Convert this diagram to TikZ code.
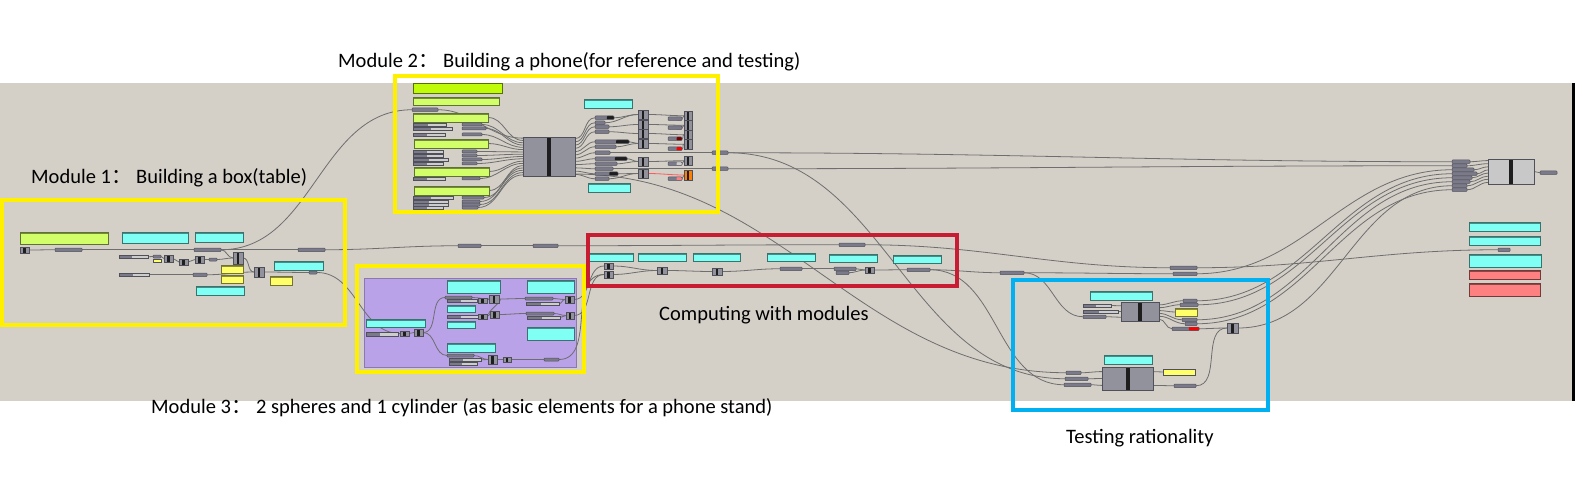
\documentclass[tikz,border=0pt]{standalone}
\usepackage{fontspec}
\setmainfont{Carlito}
\newfontfamily\cjk{Noto Sans CJK SC}
\usetikzlibrary{calc}

\definecolor{ghBg}{RGB}{212,208,200}
\definecolor{ghCyan}{RGB}{128,255,245}
\definecolor{ghLime}{RGB}{210,255,105}
\definecolor{ghLimeHi}{RGB}{192,252,10}
\definecolor{ghYel}{RGB}{255,255,105}
\definecolor{ghRose}{RGB}{255,128,128}
\definecolor{ghComp}{RGB}{146,146,156}
\definecolor{ghFin}{RGB}{200,200,200}
\definecolor{ghPrm}{RGB}{122,122,138}
\definecolor{ghLight}{RGB}{205,205,205}
\definecolor{ghEdge}{RGB}{80,80,90}
\definecolor{ghBar}{RGB}{30,30,30}
\definecolor{ghWire}{RGB}{110,110,110}
\definecolor{ghPurple}{RGB}{185,162,232}
\definecolor{frYel}{RGB}{255,240,0}
\definecolor{frRed}{RGB}{200,28,50}
\definecolor{frBlue}{RGB}{0,176,240}

\pgfdeclarelayer{canvas}
\pgfdeclarelayer{wires}
\pgfsetlayers{canvas,wires,main}

\tikzset{
  gh/.style={inner sep=0pt, outer sep=0pt, anchor=north west, line width=.5pt, draw=ghEdge},
  panel/.style={gh, fill=#1, draw=#1!45!black, path picture={\fill[#1!55!black] (path picture bounding box.north west) rectangle ([yshift=-2pt]path picture bounding box.north east);}},
  cyanp/.style={panel=ghCyan},
  limep/.style={panel=ghLime},
  yelp/.style={panel=ghYel},
  rosep/.style={panel=ghRose},
  blk/.style={gh, fill=ghComp, path picture={\fill[ghBar] ([xshift=-2pt]path picture bounding box.north) rectangle ([xshift=2pt]path picture bounding box.south);}},
  tiny/.style={gh, fill=ghComp, path picture={\fill[ghBar] ([xshift=-1.3pt]path picture bounding box.north) rectangle ([xshift=1.3pt]path picture bounding box.south);}},
  prm/.style={gh, fill=ghPrm, rounded corners=.8pt},
  prmend/.style={prm, path picture={\fill[#1] ($(path picture bounding box.north west)!.62!(path picture bounding box.north east)$) rectangle (path picture bounding box.south east);}},
  prmk/.style={prmend=ghBar},
  sld/.style={gh, fill=ghLight, path picture={\fill[ghPrm] (path picture bounding box.north west) rectangle ($(path picture bounding box.south west)!.45!(path picture bounding box.south east)$);}},
  wire/.style={draw=ghWire, line width=.8pt},
  modframe/.style={draw=#1, line width=4pt},
  lbl/.style={anchor=base west, inner sep=0pt, font=\fontsize{20.5}{24}\selectfont}
}

\begin{document}
\begin{tikzpicture}[x=1pt, y=-1pt]
\useasboundingbox (0,0) rectangle (1583,484);

% canvas
\begin{pgfonlayer}{canvas}
\fill[ghBg] (0,83) rectangle (1572,401);
\fill[black] (1572,83) rectangle (1575,401);
\fill[ghPurple, draw=ghPurple!75!black] (364,278) rectangle (576,367);
\end{pgfonlayer}

% module 1: box
\node[limep, minimum width=88, minimum height=12] (m1g) at (20,232) {};
\node[cyanp, minimum width=66, minimum height=11] (m1c1) at (122,232) {};
\node[cyanp, minimum width=48, minimum height=10] (m1c2) at (195,232) {};
\node[tiny, minimum width=9, minimum height=6] (m1a) at (20,247) {};
\node[prm, minimum width=27, minimum height=3.5] (m1p1) at (55,248) {};
\node[prm, minimum width=27, minimum height=3.5] (m1p2) at (194,248) {};
\node[prm, minimum width=27, minimum height=3.5] (m1p3) at (298,248) {};
\node[sld, minimum width=29, minimum height=3.5] (m1s1) at (119,255) {};
\node[prm, minimum width=8, minimum height=3] (m1q) at (153,255) {};
\node[gh, fill=ghYel, minimum width=8, minimum height=3] (m1qy) at (153,259) {};
\node[tiny, minimum width=9, minimum height=7] (m1b) at (164,255) {};
\node[tiny, minimum width=9, minimum height=6] (m1d) at (179,259) {};
\node[tiny, minimum width=9, minimum height=7] (m1e) at (195,256) {};
\node[prm, minimum width=8, minimum height=3] (m1p4) at (209,258) {};
\node[tiny, minimum width=10, minimum height=12] (m1f) at (233,252) {};
\node[yelp, minimum width=22, minimum height=8] (m1y1) at (221,265) {};
\node[yelp, minimum width=22, minimum height=8] (m1y2) at (221,275) {};
\node[sld, minimum width=30, minimum height=3.5] (m1s2) at (119,273) {};
\node[prm, minimum width=14, minimum height=3.5] (m1p5) at (193,273) {};
\node[tiny, minimum width=10, minimum height=10] (m1h) at (254,267) {};
\node[cyanp, minimum width=49, minimum height=9] (m1c3) at (274,261) {};
\node[prm, minimum width=8, minimum height=3] (m1p6) at (309,271) {};
\node[yelp, minimum width=22, minimum height=9] (m1y3) at (270,276) {};
\node[cyanp, minimum width=48, minimum height=9] (m1c4) at (196,286) {};

% module 2: phone
\node[gh, fill=ghLimeHi, draw=ghLimeHi!45!black, minimum width=89, minimum height=10] (m2g0) at (413,83) {};
\node[limep, minimum width=86, minimum height=8] (m2g1) at (413,97) {};
\node[prm, minimum width=26, minimum height=3.5] (m2p0) at (412,108) {};
\node[limep, minimum width=75, minimum height=9] (m2g2) at (413,113) {};
\node[limep, minimum width=74, minimum height=9] (m2g3) at (414,139) {};
\node[limep, minimum width=75, minimum height=9] (m2g4) at (414,167) {};
\node[limep, minimum width=75, minimum height=9] (m2g5) at (414,186) {};
\foreach \y/\w/\v [count=\i] in {123/33/20, 127/39/24, 133/32/20, 150/30/15, 154/30/15, 158/35/20, 162/30/15, 177/32/18, 196/40/22, 200/35/18, 203/35/18, 206/30/16}
{ \node[sld, minimum width=\w, minimum height=3] (m2s\i) at (413,\y) {};
  \node[prm, minimum width=\v, minimum height=3] (m2r\i) at (462,\y) {}; }
\node[blk, minimum width=52, minimum height=39] (m2big) at (523,137) {};
\node[cyanp, minimum width=48, minimum height=9] (m2c1) at (584,99) {};
\node[cyanp, minimum width=42, minimum height=9] (m2c2) at (588,183) {};
\foreach \y/\w/\st [count=\i] in {116/19/prmk, 121/10/prm, 125/14/prm, 130/14/prm, 140/34/prmk, 145/21/prm, 151/15/prm, 157/32/prmk, 162/22/prm, 167/18/prm, 172/23/prmk, 177/14/prm}
  \node[\st, minimum width=\w, minimum height=3.5] (m2o\i) at (595,\y) {};
\foreach \y [count=\i] in {110,120,129,139,157,169}
  \node[tiny, minimum width=10, minimum height=9] (m2m\i) at (638,\y) {};
\foreach \y/\c [count=\i] in {117/ghPrm, 126/ghPrm, 137/red!45!black, 147/red, 162/ghLight, 177/ghRose}
  \node[prmend=\c, minimum width=14, minimum height=3.5] (m2e\i) at (668,\y) {};
\foreach \y [count=\i] in {111,120.5,130,139.5,156}
  \node[tiny, minimum width=8, minimum height=9.5] (m2t\i) at (684,\y) {};
\node[tiny, fill=orange, minimum width=8, minimum height=10] (m2t6) at (684,170) {};
\node[prm, minimum width=16, minimum height=3.5] (m2x1) at (712,151) {};
\node[prm, minimum width=16, minimum height=3.5] (m2x2) at (712,167) {};

% module 3: spheres and cylinder
\node[cyanp, minimum width=59, minimum height=8] (m3c1) at (366,319) {};
\node[sld, minimum width=32, minimum height=4] (m3s1) at (366,332) {};
\node[tiny, minimum width=9, minimum height=5] (m3a) at (400,331) {};
\node[tiny, minimum width=9, minimum height=7] (m3b) at (414,329) {};
\node[cyanp, minimum width=53, minimum height=13] (m3c2) at (447,280) {};
\node[cyanp, minimum width=47, minimum height=13] (m3c3) at (527,280) {};
\node[prm, minimum width=27, minimum height=3] (m3p1) at (445,296) {};
\node[sld, minimum width=30, minimum height=3] (m3s2) at (447,299.5) {};
\node[tiny, minimum width=9, minimum height=5] (m3d) at (478,298) {};
\node[tiny, minimum width=10, minimum height=8] (m3e) at (489,295) {};
\node[cyanp, minimum width=28, minimum height=7] (m3c4) at (447,305) {};
\node[sld, minimum width=31, minimum height=3] (m3s3) at (447,315) {};
\node[tiny, minimum width=9, minimum height=5] (m3f) at (478,314) {};
\node[tiny, minimum width=9, minimum height=7] (m3g) at (490,311) {};
\node[cyanp, minimum width=28, minimum height=7] (m3c5) at (447,321) {};
\node[prm, minimum width=28, minimum height=3] (m3p2) at (525,297) {};
\node[sld, minimum width=33, minimum height=3.5] (m3s4) at (526,302) {};
\node[tiny, minimum width=9, minimum height=7] (m3h) at (565,296) {};
\node[prm, minimum width=28, minimum height=3] (m3p3) at (526,312) {};
\node[sld, minimum width=33, minimum height=3] (m3s5) at (527,316) {};
\node[tiny, minimum width=8, minimum height=7] (m3i) at (566,312) {};
\node[cyanp, minimum width=47, minimum height=13] (m3c6) at (527,327) {};
\node[cyanp, minimum width=48, minimum height=9] (m3c7) at (447,343) {};
\node[prm, minimum width=27, minimum height=3] (m3p4) at (447,354) {};
\node[sld, minimum width=32, minimum height=3.5] (m3s6) at (449,358) {};
\node[sld, minimum width=28, minimum height=3.5] (m3s7) at (449,362) {};
\node[tiny, minimum width=9, minimum height=9] (m3j) at (488,355) {};
\node[tiny, minimum width=8, minimum height=5] (m3k) at (503,357) {};
\node[prm, minimum width=15, minimum height=3] (m3p5) at (544,358) {};

% computing
\foreach \x/\y/\w [count=\i] in {586/253/47, 638/253/48, 693/253/47, 767/253/48, 829/254/48, 893/255/48}
  \node[cyanp, minimum width=\w, minimum height=8.5] (cp\i) at (\x,\y) {};
\node[tiny, minimum width=9, minimum height=6] (cpa) at (604,263) {};
\node[tiny, minimum width=9, minimum height=7] (cpb) at (604,271) {};
\node[tiny, minimum width=10, minimum height=7] (cpc) at (657,267) {};
\node[tiny, minimum width=10, minimum height=7] (cpd) at (712,268) {};
\node[prm, minimum width=22, minimum height=3.5] (cpp1) at (780,267) {};
\node[prm, minimum width=22, minimum height=3.5] (cpp2) at (834,267) {};
\node[prm, minimum width=13, minimum height=3.5] (cpp3) at (836,271) {};
\node[tiny, minimum width=9, minimum height=6] (cpe) at (865,267) {};
\node[prm, minimum width=23, minimum height=3.5] (cpp4) at (907,268) {};
\node[prm, minimum width=26, minimum height=3.5] (cpp0) at (839,243) {};
\node[prm, minimum width=23, minimum height=3.5] (mp1) at (458,244) {};
\node[prm, minimum width=25, minimum height=3.5] (mp2) at (533,244) {};

% testing
\node[cyanp, minimum width=62, minimum height=9] (t1c) at (1090,291) {};
\node[blk, minimum width=38, minimum height=19] (t1) at (1121,302) {};
\node[sld, minimum width=28, minimum height=3] (t1s1) at (1083,304) {};
\node[sld, minimum width=35, minimum height=3] (t1s2) at (1083,310) {};
\node[prm, minimum width=23, minimum height=3.5] (t1p) at (1083,315) {};
\node[prm, minimum width=14, minimum height=3.5] (t1o1) at (1183,299) {};
\node[prm, minimum width=18, minimum height=3.5] (t1o2) at (1180,303) {};
\node[yelp, minimum width=22, minimum height=8] (t1y) at (1175,308) {};
\node[prm, minimum width=15, minimum height=3.5] (t1o3) at (1182,318) {};
\node[prm, minimum width=12, minimum height=3.5] (t1o4) at (1185,322) {};
\node[prmend=red, minimum width=27, minimum height=3.5] (t1o5) at (1172,327) {};
\node[tiny, minimum width=11, minimum height=10] (t2k) at (1227,323) {};
\node[cyanp, minimum width=48, minimum height=9] (t2c) at (1104,355) {};
\node[blk, minimum width=51, minimum height=23] (t2) at (1102,367) {};
\node[gh, fill=ghYel, minimum width=32, minimum height=6] (t2y) at (1163,369) {};
\node[prm, minimum width=15, minimum height=3.5] (t2p1) at (1066,371) {};
\node[prm, minimum width=23, minimum height=3.5] (t2p2) at (1065,377) {};
\node[prm, minimum width=27, minimum height=3.5] (t2p3) at (1064,383) {};
\node[prm, minimum width=22, minimum height=3.5] (t2o) at (1174,384) {};
\node[prm, minimum width=24, minimum height=3.5] (tp0) at (1000,271) {};
\node[prm, minimum width=27, minimum height=3.5] (tp1) at (1170,266) {};
\node[prm, minimum width=24, minimum height=3.5] (tp2) at (1173,272) {};

% final block and panels
\node[blk, fill=ghFin, minimum width=46, minimum height=25] (fin) at (1488,159) {};
\node[prm, minimum width=17, minimum height=3.5] (finout) at (1540,171) {};
\foreach \w [count=\i] in {18,15,22,25,20,18,15,15}
  \node[prm, minimum width=\w, minimum height=3.5] (fi\i) at (1452,{156+4*\i}) {};
\node[cyanp, minimum width=71, minimum height=9] (fc1) at (1469,222) {};
\node[cyanp, minimum width=71, minimum height=9] (fc2) at (1469,236) {};
\node[prm, minimum width=12, minimum height=3.5] (finp) at (1498,248) {};
\node[cyanp, minimum width=72, minimum height=13] (fc3) at (1469,254) {};
\node[rosep, minimum width=71, minimum height=9] (fr1) at (1469,270) {};
\node[rosep, minimum width=71, minimum height=13] (fr2) at (1469,283) {};

% wires
\begin{pgfonlayer}{wires}
\foreach \a/\b in {m1a/m1p1, m1p1/m1p2, m1p2/m1p3, m1p2/m1f, m1s1/m1q, m1q/m1b, m1b/m1d, m1d/m1e, m1e/m1p4, m1p4/m1f, m1f/m1h, m1s2/m1p5, m1p5/m1h, m1h/m1p6, m1p2/m2p0, m1p3/mp1, m1p6/m3a,
  m2o1/m2m1, m2o2/m2m1, m2o3/m2m2, m2o4/m2m3, m2o5/m2m4, m2o6/m2m4, m2o8/m2m5, m2o9/m2m5, m2o11/m2m6, m2o12/m2m6, m2o7/m2x1, m2o10/m2x2,
  m2m1/m2t1, m2m2/m2t2, m2m3/m2t3, m2m4/m2t4, m2m5/m2t5, m2e1/m2t1, m2e2/m2t2, m2e3/m2t3, m2e4/m2t4, m2e5/m2t5, m2e6/m2t6,
  m3s1/m3a, m3a/m3b, m3b/m3p1, m3b/m3p4, m3p1/m3e, m3d/m3e, m3e/m3p2, m3e/m3g, m3s3/m3f, m3f/m3g, m3g/m3p3, m3p2/m3h, m3s4/m3h, m3p3/m3i, m3s5/m3i, m3p4/m3j, m3s6/m3j, m3j/m3k, m3k/m3p5, m3h/cpa, m3i/cpb, m3p5/cpb,
  cpa/cpc, cpb/cpc, cpc/cpd, cpd/cpp1, cpp1/cpp2, cpp2/cpe, cpp3/cpe, cpe/cpp4, cpp4/tp0, tp0/tp2, mp1/mp2, mp2/cpp0, cpp0/tp1, tp1/finp, cpp4/t2p3, m2x1/t2p2, tp0/t1p,
  t1o5/t2k, t2o/t2k, fin/finout}
  \draw[wire] (\a.east) to[out=0,in=180] (\b.west);
\draw[wire, draw=ghRose!70!red] (m2m6.east) to[out=0,in=180] (m2t6.west);
\draw[wire] ($(m2big.north east)!.95!(m2big.south east)$) to[out=0,in=180] (t2p1.west);
\foreach \s [count=\i] in {m2p0, m2g2, m2r1, m2r2, m2r3, m2g3, m2r4, m2r5, m2r6, m2r7, m2g4, m2r8, m2g5, m2r9, m2r10, m2r11, m2r12}
{ \pgfmathsetmacro\f{(\i-.5)/17}
  \draw[wire] (\s.east) to[out=0,in=180] ($(m2big.north west)!\f!(m2big.south west)$); }
\foreach \i in {1,...,12}
{ \pgfmathsetmacro\f{(\i-.5)/12}
  \draw[wire] ($(m2big.north east)!\f!(m2big.south east)$) to[out=0,in=180] (m2o\i.west); }
\foreach \s/\f in {t1s1/.2, t1s2/.5, t1p/.8}
  \draw[wire] (\s.east) to[out=0,in=180] ($(t1.north west)!\f!(t1.south west)$);
\foreach \s/\f in {t1o1/.15, t1o2/.3, t1y/.45, t1o3/.6, t1o4/.75, t1o5/.9}
  \draw[wire] ($(t1.north east)!\f!(t1.south east)$) to[out=0,in=180] (\s.west);
\foreach \s/\f in {t2p1/.2, t2p2/.5, t2p3/.8}
  \draw[wire] (\s.east) to[out=0,in=180] ($(t2.north west)!\f!(t2.south west)$);
\foreach \s/\f in {t2y/.2, t2o/.8}
  \draw[wire] ($(t2.north east)!\f!(t2.south east)$) to[out=0,in=180] (\s.west);
\foreach \a/\i in {m2x1/1, m2x2/2, tp2/3, t1o1/4, t1o2/5, t1o3/6, t2k/7, t1o4/8}
  \draw[wire] (\a.east) to[out=0,in=180] (fi\i.west);
\foreach \i in {1,...,8}
{ \pgfmathsetmacro\f{(\i-.5)/8}
  \draw[wire] (fi\i.east) to[out=0,in=180] ($(fin.north west)!\f!(fin.south west)$); }
\end{pgfonlayer}

% frames and captions
\draw[modframe=frYel] (2,200) rectangle (345,325);
\draw[modframe=frYel] (395,76) rectangle (718,212);
\draw[modframe=frYel] (357,266) rectangle (584,372);
\draw[modframe=frRed] (588,235) rectangle (957,286);
\draw[modframe=frBlue] (1013,280) rectangle (1268,410);

\node[lbl] (lab1) at (31,184) {Module 1{\cjk ：}\ Building a box(table)};
\node[lbl] (lab2) at (338,68) {Module 2{\cjk ：}\ Building a phone(for reference and testing)};
\node[lbl] (lab3) at (151,413) {Module 3{\cjk ：}\ 2 spheres and 1 cylinder (as basic elements for a phone stand)};
\node[lbl] (lab4) at (659,320) {Computing with modules};
\node[lbl] (lab5) at (1066,443) {Testing rationality};
\end{tikzpicture}
\end{document}
